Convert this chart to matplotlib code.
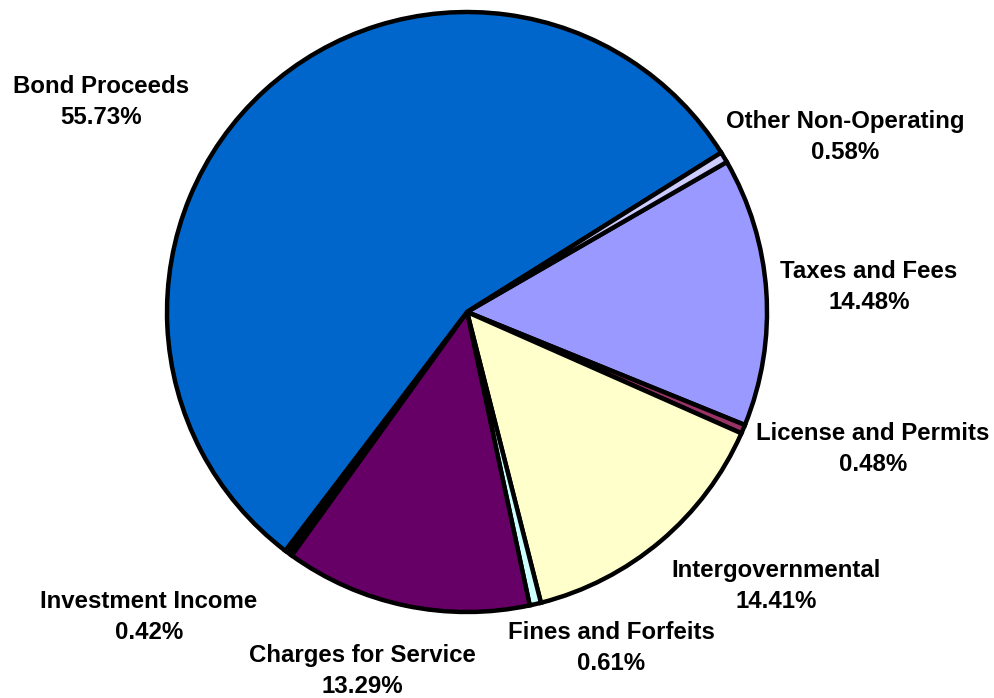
import matplotlib
matplotlib.use('Agg')
import matplotlib.pyplot as plt

plt.rcParams['font.family'] = ['Liberation Sans', 'DejaVu Sans']

# revenue sources, clockwise from the first slice
names = ['Taxes and Fees', 'License and Permits', 'Intergovernmental',
         'Fines and Forfeits', 'Charges for Service', 'Investment Income',
         'Bond Proceeds', 'Other Non-Operating']
pcts = [14.48, 0.48, 14.41, 0.61, 13.29, 0.42, 55.73, 0.58]
colors = ['#9999FF', '#993366', '#FFFFCC', '#CCFFFF', '#660066', '#000000',
          '#0066CC', '#CCCCFF']

# label centres in pixel space (x right, y down)
label_pos = [(869, 287), (873, 449), (776, 586), (611, 648), (362, 671),
             (149, 617), (101, 102), (845, 137)]

W, H = 995, 698
fig = plt.figure(figsize=(W / 100, H / 100), dpi=100)
ax = fig.add_axes([0, 0, 1, 1])
ax.set_xlim(0, W)
ax.set_ylim(0, H)
ax.set_aspect('equal')
ax.axis('off')

ax.pie(pcts, colors=colors, startangle=30, counterclock=False,
       center=(467, H - 312), radius=300,
       wedgeprops=dict(edgecolor='black', linewidth=3.2))

for name, p, (x, y) in zip(names, pcts, label_pos):
    ax.text(x, H - y, '%s\n%.2f%%' % (name, p), ha='center', va='center',
            fontsize=17.3, fontweight='bold', linespacing=1.45)

ax.set_xlim(0, W)
ax.set_ylim(0, H)
fig.savefig('out.png', dpi=100)
